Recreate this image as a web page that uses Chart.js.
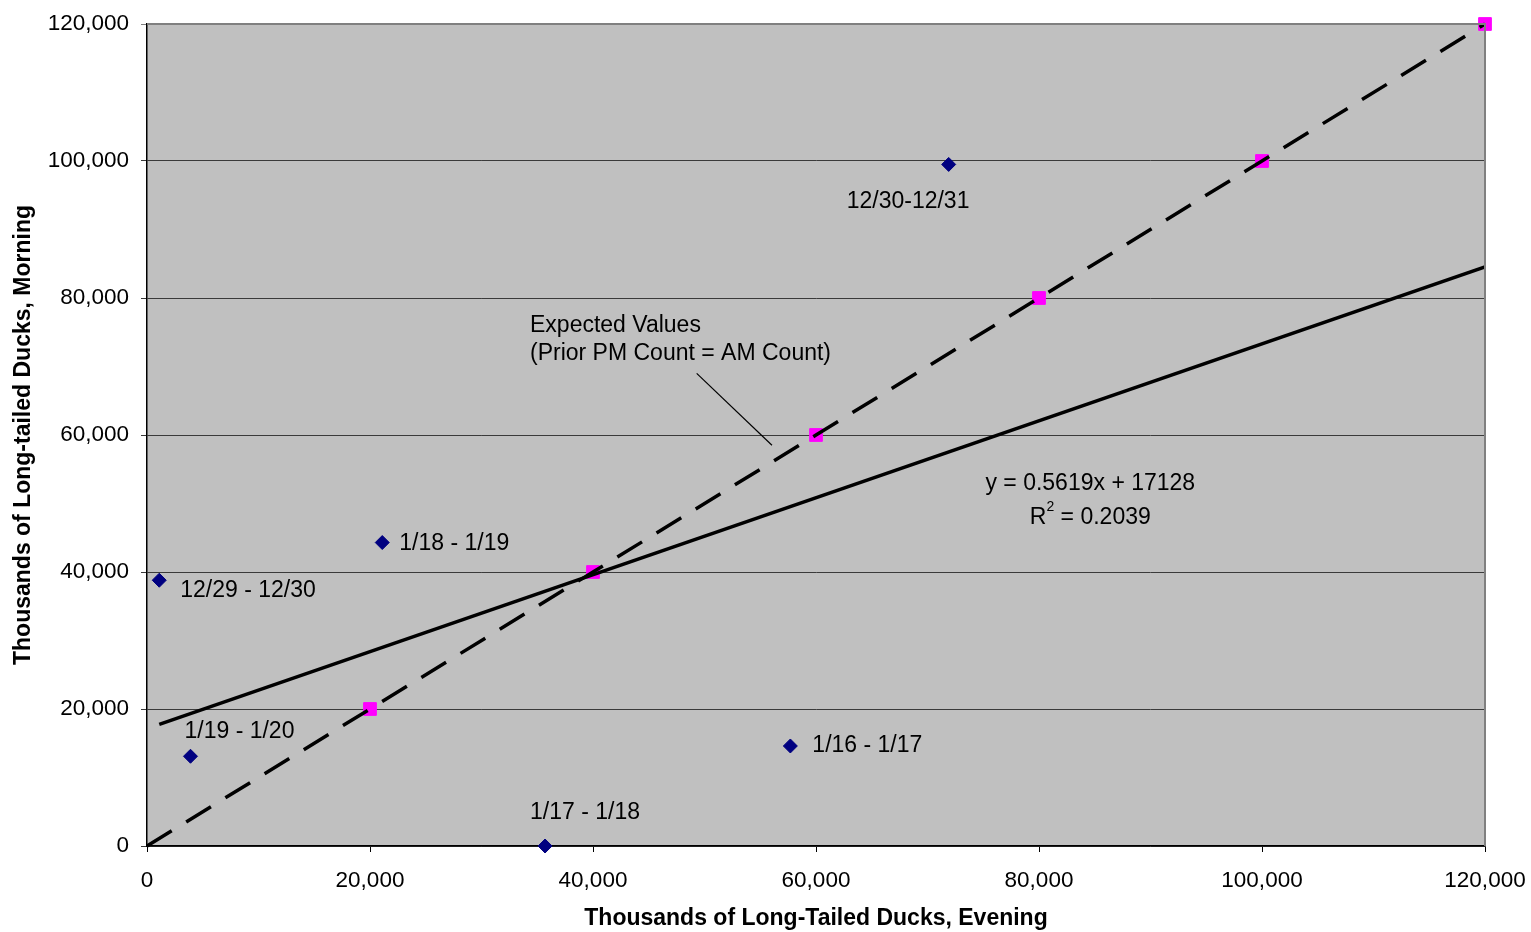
<!DOCTYPE html>
<html>
<head>
<meta charset="utf-8">
<title>Long-tailed Ducks, evening vs morning</title>
<script src="https://cdn.jsdelivr.net/npm/chart.js@4.4.1/dist/chart.umd.min.js"></script>
<style>
  body { margin: 0; background: #fff; }
  #wrap { width: 1531px; height: 932px; }
</style>
</head>
<body>
<div id="wrap"><canvas id="duckChart" width="1531" height="932"></canvas></div>
<script>
// observed pairs (evening count, next morning count)
const obsLabels = ['12/29 - 12/30', '12/30-12/31', '1/16 - 1/17', '1/17 - 1/18', '1/18 - 1/19', '1/19 - 1/20'];
const obsEvening = [1100, 71900, 57700, 35700, 21100, 3900];
const obsMorning = [38800, 99500, 14600, 0, 44300, 13100];

// expected values: prior PM count = AM count
const expEvening = [0, 20000, 40000, 60000, 80000, 100000, 120000];
const expMorning = [0, 20000, 40000, 60000, 80000, 100000, 120000];

// linear trend (y = 0.5619x + 17128), ends
const trendEvening = [1100, 120000];
const trendMorning = [17746, 84556];

const axisTicks = [0, 20000, 40000, 60000, 80000, 100000, 120000];

// label offsets in pixels from each observed point (text left, text middle)
const labelOffsets = [[21, 10], [-102, 37], [22, 0], [-15, -33], [17, 1], [-6, -25]];

const FONT = "'Liberation Sans', Arial, sans-serif";
Chart.defaults.font.family = FONT;
Chart.defaults.color = '#000';

function toPoints(xs, ys) {
    return xs.map((x, i) => ({ x: x, y: ys[i] }));
}

// grey plot area + grey top/right frame
const plotBackground = {
    id: 'plotBackground',
    beforeDraw(chart) {
        const { ctx, chartArea: a } = chart;
        ctx.save();
        ctx.fillStyle = '#C0C0C0';
        ctx.fillRect(a.left, a.top, a.right - a.left, a.bottom - a.top);
        ctx.restore();
    },
    afterDraw(chart) {
        const { ctx, chartArea: a } = chart;
        ctx.save();
        ctx.strokeStyle = '#808080';
        ctx.lineWidth = 2;
        ctx.beginPath();
        ctx.moveTo(a.left, a.top);
        ctx.lineTo(a.right, a.top);
        ctx.lineTo(a.right, a.bottom);
        ctx.stroke();
        ctx.restore();
    }
};

// point labels, trend equation and the "expected values" note
const notes = {
    id: 'notes',
    afterDatasetsDraw(chart) {
        const { ctx } = chart;
        const xs = chart.scales.x, ys = chart.scales.y;
        const big = '23px ' + FONT, small = '14px ' + FONT;
        ctx.save();
        ctx.fillStyle = '#000';
        ctx.font = big;
        ctx.textBaseline = 'middle';
        ctx.textAlign = 'left';
        obsLabels.forEach((lbl, i) => {
            const px = xs.getPixelForValue(obsEvening[i]);
            const py = ys.getPixelForValue(obsMorning[i]);
            ctx.fillText(lbl, px + labelOffsets[i][0], py + labelOffsets[i][1]);
        });

        // expected values note with leader line
        const nx = xs.getPixelForValue(34350);
        const ny = ys.getPixelForValue(76000);
        ctx.fillText('Expected Values', nx, ny);
        ctx.fillText('(Prior PM Count = AM Count)', nx, ny + 28);
        ctx.strokeStyle = '#000';
        ctx.lineWidth = 1.2;
        ctx.beginPath();
        ctx.moveTo(xs.getPixelForValue(49300), ys.getPixelForValue(69000));
        ctx.lineTo(xs.getPixelForValue(56050), ys.getPixelForValue(58500));
        ctx.stroke();

        // trend equation
        const ex = xs.getPixelForValue(84600);
        const ey = ys.getPixelForValue(52900);
        ctx.textAlign = 'center';
        ctx.fillText('y = 0.5619x + 17128', ex, ey);
        const r1 = 'R', r3 = ' = 0.2039';
        const w1 = ctx.measureText(r1).width, w3 = ctx.measureText(r3).width;
        ctx.font = small;
        const w2 = ctx.measureText('2').width;
        const start = ex - (w1 + w2 + w3) / 2;
        const ry = ey + 34;
        ctx.textAlign = 'left';
        ctx.font = big;
        ctx.fillText(r1, start, ry);
        ctx.font = small;
        ctx.fillText('2', start + w1, ry - 10);
        ctx.font = big;
        ctx.fillText(r3, start + w1 + w2, ry);
        ctx.restore();
    }
};

const ctx = document.getElementById('duckChart').getContext('2d');
new Chart(ctx, {
    type: 'scatter',
    data: {
        datasets: [
            {
                label: 'Observed',
                data: toPoints(obsEvening, obsMorning),
                pointStyle: 'rectRot',
                pointRadius: 7,
                backgroundColor: '#000080',
                borderColor: '#000080',
                borderWidth: 1,
                clip: false,
                order: 0
            },
            {
                label: 'Expected line',
                data: toPoints(expEvening, expMorning),
                showLine: true,
                pointRadius: 0,
                borderColor: '#000',
                borderWidth: 3.5,
                borderDash: [29, 17],
                clip: false,
                order: 1
            },
            {
                label: 'Trend',
                data: toPoints(trendEvening, trendMorning),
                showLine: true,
                pointRadius: 0,
                borderColor: '#000',
                borderWidth: 3.5,
                order: 2
            },
            {
                label: 'Expected',
                data: toPoints(expEvening, expMorning),
                pointStyle: 'rect',
                pointRadius: expEvening.map(v => v === 0 ? 0 : 9),
                backgroundColor: '#FF00FF',
                borderColor: '#FF00FF',
                borderWidth: 1,
                clip: false,
                order: 3
            }
        ]
    },
    options: {
        responsive: false,
        animation: false,
        layout: { padding: { top: 24, right: 46, left: 0, bottom: 0 } },
        plugins: {
            legend: { display: false },
            tooltip: { enabled: false }
        },
        scales: {
            x: {
                type: 'linear',
                min: 0,
                max: 120000,
                afterFit(scale) {
                    scale.height = 86;
                    scale.paddingLeft = 0;
                    scale.paddingRight = 0;
                },
                afterBuildTicks(scale) { scale.ticks = axisTicks.map(v => ({ value: v })); },
                ticks: {
                    font: { size: 22.5 },
                    padding: 15,
                    maxRotation: 0,
                    callback: v => v.toLocaleString('en-US')
                },
                grid: {
                    drawOnChartArea: false,
                    tickLength: 6,
                    color: '#000'
                },
                border: { color: '#000', width: 1.5 },
                title: {
                    display: true,
                    text: 'Thousands of Long-Tailed Ducks, Evening',
                    font: { size: 23, weight: 'bold' },
                    padding: { top: 0, bottom: 0 }
                }
            },
            y: {
                type: 'linear',
                min: 0,
                max: 120000,
                afterFit(scale) {
                    scale.width = 147;
                    scale.paddingTop = 0;
                    scale.paddingBottom = 0;
                },
                afterBuildTicks(scale) { scale.ticks = axisTicks.map(v => ({ value: v })); },
                ticks: {
                    font: { size: 22.5 },
                    padding: 12,
                    callback: v => v.toLocaleString('en-US')
                },
                grid: {
                    tickLength: 6,
                    color: c => (c.tick && c.tick.value === 120000) ? '#808080' : '#3A3A3A',
                    lineWidth: 1
                },
                border: { color: '#000', width: 1.5 },
                title: {
                    display: true,
                    text: 'Thousands of Long-tailed Ducks, Morning',
                    font: { size: 23, weight: 'bold' },
                    padding: { top: 10, bottom: 0 }
                }
            }
        }
    },
    plugins: [plotBackground, notes]
});
</script>
</body>
</html>
